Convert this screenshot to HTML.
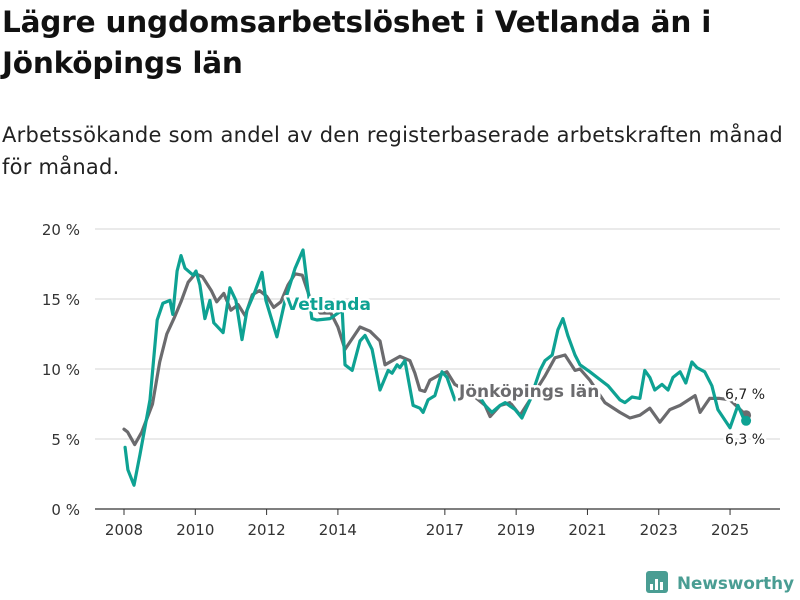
<!DOCTYPE html>
<html><head><meta charset="utf-8"><style>
body{margin:0;background:#fff;font-family:"Liberation Sans","DejaVu Sans",sans-serif;}
#wrap{position:relative;width:800px;height:600px;overflow:hidden;}
h1{position:absolute;left:2px;top:2px;margin:0;font-size:29.5px;line-height:41px;font-weight:bold;color:#111;font-family:"DejaVu Sans",sans-serif;letter-spacing:-0.2px}
p.sub{position:absolute;left:2px;top:119px;margin:0;font-size:21px;line-height:32px;color:#222;font-family:"DejaVu Sans",sans-serif;letter-spacing:0.25px}
</style></head><body>
<div id="wrap">
<h1>Lägre ungdomsarbetslöshet i Vetlanda än i<br>Jönköpings län</h1>
<p class="sub">Arbetssökande som andel av den registerbaserade arbetskraften månad<br>för månad.</p>
<svg id="chart" width="800" height="600" style="position:absolute;left:0;top:0"></svg>
</div>
<script>
const yTicks=[0,5,10,15,20];
const xTicks=[2008,2010,2012,2014,2017,2019,2021,2023,2025];
const vetDates=[2008.03,2008.11,2008.28,2008.45,2008.73,2008.93,2009.09,2009.29,2009.37,2009.49,2009.6,2009.71,2009.94,2010.02,2010.13,2010.27,2010.41,2010.52,2010.78,2010.97,2011.14,2011.31,2011.45,2011.67,2011.87,2011.98,2012.29,2012.52,2012.8,2013.02,2013.16,2013.27,2013.41,2013.78,2014.12,2014.2,2014.4,2014.62,2014.76,2014.96,2015.18,2015.41,2015.52,2015.66,2015.74,2015.88,2016.11,2016.3,2016.39,2016.53,2016.72,2016.92,2017.06,2017.28,2017.57,2017.85,2018.13,2018.32,2018.55,2018.69,2018.97,2019.16,2019.39,2019.67,2019.81,2020.01,2020.17,2020.31,2020.45,2020.65,2020.79,2021.07,2021.27,2021.58,2021.91,2022.05,2022.25,2022.47,2022.61,2022.75,2022.89,2023.09,2023.26,2023.4,2023.6,2023.76,2023.93,2024.07,2024.29,2024.49,2024.66,2025.0,2025.22,2025.39,2025.45];
const vetValues=[4.4,2.8,1.7,3.9,7.8,13.5,14.7,14.9,13.9,17,18.1,17.2,16.7,17,16,13.6,14.9,13.3,12.6,15.8,14.9,12.1,14.2,15.5,16.9,14.9,12.3,14.9,17.2,18.5,15.6,13.6,13.5,13.6,14.2,10.3,9.9,12,12.4,11.4,8.5,9.9,9.7,10.3,10.1,10.6,7.4,7.2,6.9,7.8,8.1,9.8,9.4,7.8,8.2,8.5,7.4,6.9,7.4,7.6,7.1,6.5,7.8,9.9,10.6,11,12.8,13.6,12.4,11,10.3,9.8,9.4,8.8,7.8,7.6,8,7.9,9.9,9.4,8.5,8.9,8.5,9.4,9.8,9,10.5,10.1,9.8,8.8,7.1,5.8,7.4,6.4,6.3];
const jkpDates=[2008.0,2008.1,2008.3,2008.5,2008.8,2009.0,2009.2,2009.4,2009.6,2009.8,2010.0,2010.2,2010.45,2010.6,2010.8,2011.0,2011.2,2011.4,2011.6,2011.8,2012.0,2012.2,2012.4,2012.6,2012.8,2013.0,2013.2,2013.5,2013.8,2014.0,2014.2,2014.62,2014.9,2015.18,2015.32,2015.74,2016.02,2016.16,2016.3,2016.44,2016.58,2016.86,2017.06,2017.28,2017.7,2018.13,2018.27,2018.55,2018.83,2019.11,2019.39,2019.81,2020.09,2020.37,2020.65,2020.79,2021.07,2021.49,2021.91,2022.19,2022.47,2022.75,2023.03,2023.31,2023.6,2024.02,2024.16,2024.43,2024.71,2025.0,2025.45];
const jkpValues=[5.7,5.5,4.6,5.5,7.5,10.5,12.5,13.6,14.8,16.2,16.8,16.6,15.6,14.8,15.4,14.2,14.6,13.8,15.3,15.6,15.2,14.4,14.8,16,16.8,16.7,15.2,14,14,13,11.4,13,12.7,12,10.3,10.9,10.6,9.7,8.5,8.4,9.2,9.6,9.8,8.9,8.3,7.4,6.6,7.4,7.6,6.7,7.8,9.5,10.8,11,9.9,10,9.2,7.6,6.9,6.5,6.7,7.2,6.2,7.1,7.4,8.1,6.9,7.9,7.9,7.8,6.7];
const NS="http://www.w3.org/2000/svg";
const svg=document.getElementById('chart');
const x=v=>124+(v-2008)*35.65;
const y=v=>509-v*14;
function mk(t,a,p){const e=document.createElementNS(NS,t);for(const k in a)e.setAttribute(k,a[k]);(p||svg).appendChild(e);return e;}
yTicks.forEach(t=>{
 const l=mk('line',{x1:95,x2:780,y1:y(t),y2:y(t),stroke:t===0?'#333':'#ddd','stroke-width':1.2});
 
 
 const tx=mk('text',{x:80,y:y(t)+6,'text-anchor':'end','font-size':15,fill:'#333','font-family':'DejaVu Sans,sans-serif'});
 tx.textContent=t+' %';
 
 
});
xTicks.forEach(t=>{
 const l=mk('line',{x1:x(t),x2:x(t),y1:509,y2:515,stroke:'#333'});
 
 
 const tx=mk('text',{x:x(t),y:535,'text-anchor':'middle','font-size':15,fill:'#333','font-family':'DejaVu Sans,sans-serif'});
 tx.textContent=t;
 
 
});
function line(d,v,c,name){
 const p=mk('path',{d:d.map((dd,i)=>(i?'L':'M')+x(dd).toFixed(1)+','+y(v[i]).toFixed(1)).join(''),fill:'none',stroke:c,'stroke-width':3.2,'stroke-linejoin':'round','stroke-linecap':'round'});
 
 
 const c2=mk('circle',{cx:x(d[d.length-1]),cy:y(v[v.length-1]),r:5,fill:c});
 
 
}
line(jkpDates,jkpValues,'#6b6b6e','jonkoping-line');
line(vetDates,vetValues,'#0ea293','vetlanda-line');
function lab(t,xx,yy,c,fs,w,name,anchor){
 const e=mk('text',{x:xx,y:yy,fill:c,'font-size':fs,'font-weight':w,stroke:'#fff','stroke-width':5,'paint-order':'stroke','stroke-linejoin':'round','text-anchor':anchor||'start','font-family':'DejaVu Sans,sans-serif'});
 e.textContent=t;
 
 
}
lab('Vetlanda',286,310,'#0ea293',17,'bold','vetlanda-label');
lab('Jönköpings län',459,397,'#6b6b6e',17,'bold','jonkoping-label');
lab('6,7 %',725,399,'#222',14,'normal','jonkoping-end-value');
lab('6,3 %',725,444,'#222',14,'normal','vetlanda-end-value');
const g=mk('g',{});


mk('rect',{x:646,y:571,width:22,height:22,rx:3,fill:'#4a9d93'},g);
[[650,584,3,6],[655,579,3,11],[660,582,3,8]].forEach(r=>mk('rect',{x:r[0],y:r[1],width:r[2],height:r[3],fill:'#fff'},g));
const lt=mk('text',{x:677,y:589,fill:'#4a9d93','font-size':17,'font-weight':'bold','font-family':'DejaVu Sans,sans-serif',textLength:117,lengthAdjust:'spacingAndGlyphs'},g);
lt.textContent='Newsworthy';
</script>
</body></html>
